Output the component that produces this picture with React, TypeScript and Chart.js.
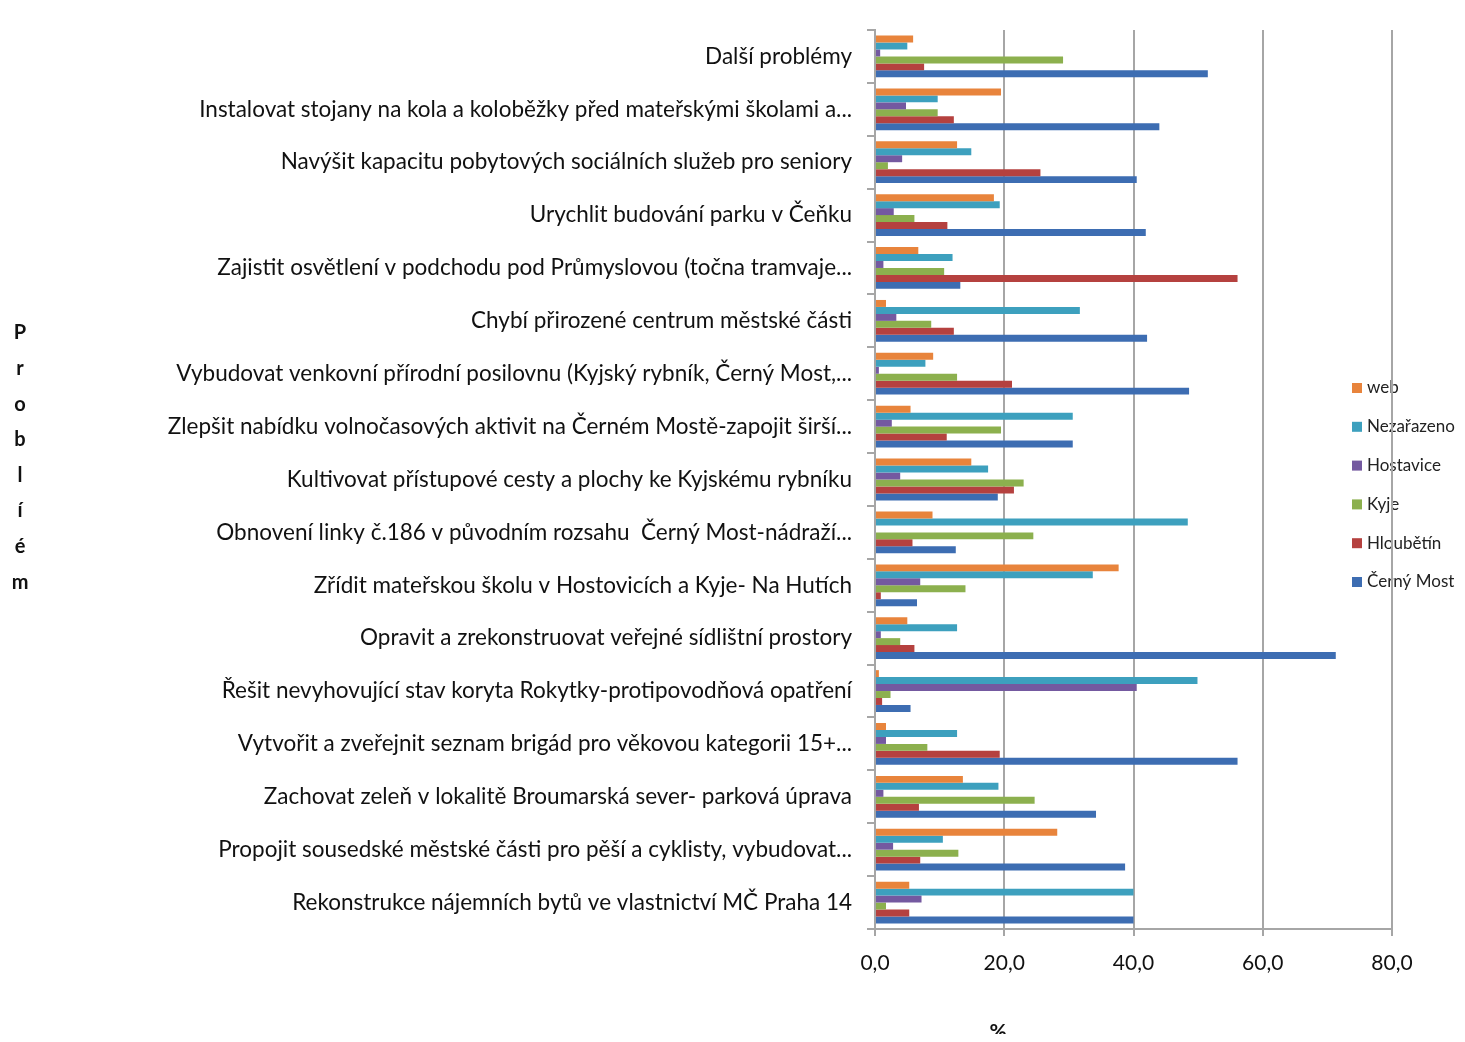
import React, { useEffect, useRef } from "react";
import { Chart, registerables } from "chart.js";

Chart.register(...registerables);

const categories = [
  "Další problémy",
  "Instalovat stojany na kola a koloběžky před mateřskými školami a...",
  "Navýšit kapacitu pobytových sociálních služeb pro seniory",
  "Urychlit budování parku v Čeňku",
  "Zajistit osvětlení v podchodu pod Průmyslovou (točna tramvaje...",
  "Chybí přirozené centrum městské části",
  "Vybudovat venkovní přírodní posilovnu (Kyjský rybník, Černý Most,...",
  "Zlepšit nabídku volnočasových aktivit na Černém Mostě-zapojit širší...",
  "Kultivovat přístupové cesty a plochy ke Kyjskému rybníku",
  "Obnovení linky č.186 v původním rozsahu  Černý Most-nádraží...",
  "Zřídit mateřskou školu v Hostovicích a Kyje- Na Hutích",
  "Opravit a zrekonstruovat veřejné sídlištní prostory",
  "Řešit nevyhovující stav koryta Rokytky-protipovodňová opatření",
  "Vytvořit a zveřejnit seznam brigád pro věkovou kategorii 15+...",
  "Zachovat zeleň v lokalitě Broumarská sever- parková úprava",
  "Propojit sousedské městské části pro pěší a cyklisty, vybudovat...",
  "Rekonstrukce nájemních bytů ve vlastnictví MČ Praha 14",
];

const web = [5.9, 19.5, 12.7, 18.4, 6.7, 1.7, 9.0, 5.5, 14.9, 8.9, 37.7, 5.0, 0.6, 1.7, 13.6, 28.2, 5.3];
const nezarazeno = [5.0, 9.7, 14.9, 19.3, 12.0, 31.7, 7.8, 30.6, 17.5, 48.4, 33.7, 12.7, 49.9, 12.7, 19.1, 10.5, 40.0];
const hostavice = [0.8, 4.8, 4.2, 2.9, 1.3, 3.3, 0.6, 2.6, 3.9, 0, 7.0, 0.9, 40.5, 1.7, 1.3, 2.8, 7.2];
const kyje = [29.1, 9.7, 2.0, 6.1, 10.7, 8.7, 12.7, 19.5, 23.0, 24.5, 14.0, 3.9, 2.4, 8.1, 24.7, 12.9, 1.7];
const hloubetin = [7.6, 12.2, 25.6, 11.2, 56.1, 12.2, 21.2, 11.1, 21.5, 5.8, 0.9, 6.1, 1.1, 19.3, 6.8, 7.0, 5.3];
const cernyMost = [51.5, 44.0, 40.5, 41.9, 13.2, 42.1, 48.6, 30.6, 19.0, 12.5, 6.5, 71.3, 5.5, 56.1, 34.2, 38.7, 40.0];

const seriesNames = ["web", "Nezařazeno", "Hostavice", "Kyje", "Hloubětín", "Černý Most"];
const seriesColors = ["#E8843C", "#3DA0BE", "#7459A0", "#8CB04E", "#B5413F", "#3D6DB2"];
const xTicks = [0, 20, 40, 60, 80];
const yTitle = "Problíém";
const xTitle = "%";

const FONT = "Lato, 'Open Sans', sans-serif";
const GRID = "#a6a6a6";

export default function App() {
  const ref = useRef<HTMLCanvasElement | null>(null);

  useEffect(() => {
    if (!ref.current) return;
    const values = [web, nezarazeno, hostavice, kyje, hloubetin, cernyMost];

    const decorPlugin = {
      id: "decor",
      beforeDraw(chart: any) {
        const ctx = chart.ctx;
        const area = chart.chartArea;
        ctx.save();
        // legend
        ctx.font = `17px ${FONT}`;
        ctx.textBaseline = "middle";
        ctx.textAlign = "left";
        const lx = area.right - 40;
        const ly0 = 380;
        const step = 38.8;
        seriesNames.forEach((n, i) => {
          const y = ly0 + i * step;
          ctx.fillStyle = seriesColors[i];
          ctx.fillRect(lx, y - 5, 10, 10);
          ctx.fillStyle = "#222";
          ctx.fillText(n, lx + 15, y);
        });
        // y title stacked letters
        ctx.font = `bold 20px ${FONT}`;
        ctx.textAlign = "center";
        ctx.fillStyle = "#111";
        Array.from(yTitle).forEach((ch, i) => {
          ctx.fillText(ch, 12, 325 + i * 35.6);
        });
        // x title
        ctx.font = `bold 21px ${FONT}`;
        ctx.fillText(xTitle, area.left + area.width * 0.238, 1024);
        ctx.restore();
      },
    };

    const chart = new Chart(ref.current, {
      type: "bar",
      data: {
        labels: categories,
        datasets: seriesNames.map((n, i) => ({
          label: n,
          data: values[i],
          backgroundColor: seriesColors[i],
          borderWidth: 0,
          categoryPercentage: 0.79,
          barPercentage: 1.0,
        })),
      },
      options: {
        indexAxis: "y",
        animation: false,
        responsive: false,
        maintainAspectRatio: false,
        layout: { padding: { top: 22, right: 65, left: 0, bottom: 0 } },
        plugins: {
          legend: { display: false },
          tooltip: { enabled: false },
        },
        scales: {
          x: {
            min: 0,
            max: 80,
            afterBuildTicks: (scale: any) => {
              scale.ticks = xTicks.map((v) => ({ value: v }));
            },
            afterFit: (scale: any) => {
              scale.height = 113;
            },
            grid: {
              color: GRID,
              lineWidth: 2,
              tickLength: 7,
            },
            border: { display: true, color: GRID, width: 2 },
            ticks: {
              color: "#111",
              font: { family: FONT, size: 21 },
              padding: 15,
              callback: (v: any) => Number(v).toFixed(1).replace(".", ","),
            },
          },
          y: {
            afterFit: (scale: any) => {
              scale.width = 867;
              scale.paddingTop = 0;
              scale.paddingBottom = 0;
            },
            grid: {
              display: true,
              drawOnChartArea: false,
              offset: true,
              color: GRID,
              lineWidth: 2,
              tickLength: 8,
            },
            border: { display: true, color: GRID, width: 2 },
            ticks: {
              color: "#111",
              font: { family: FONT, size: 22.5 },
              padding: 15,
              autoSkip: false,
            },
          },
        },
      },
      plugins: [decorPlugin],
    });
    return () => chart.destroy();
  }, []);

  return (
    <div style={{ width: 1449, height: 1034, marginBottom: -8 }}>
      <canvas ref={ref} width={1449} height={1034} style={{ width: 1449, height: 1034, display: "block" }} />
    </div>
  );
}
